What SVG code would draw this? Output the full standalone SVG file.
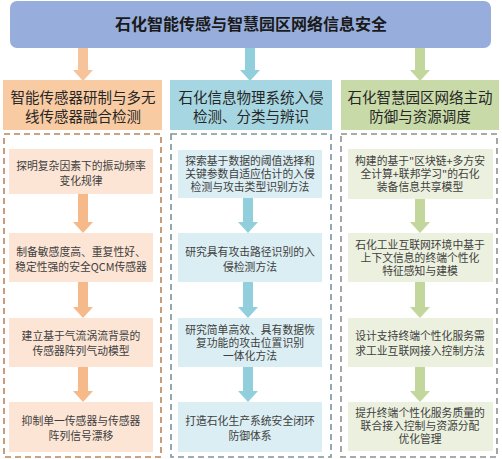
<svg xmlns="http://www.w3.org/2000/svg" width="502" height="459" viewBox="0 0 502 459">
<style>
text{font-family:"Noto Sans CJK SC","Noto Sans",sans-serif;text-anchor:middle}
.title{font-size:16px;font-weight:bold;fill:#1a1a1a}
.hd{font-size:14.5px;fill:#262626}
.tx{font-size:10.8px;fill:#404040}
.dash{fill:none;stroke-width:1.6;stroke-dasharray:6 4}
</style>
<rect width="502" height="459" fill="#ffffff"/>
<g id="title">
<rect x="10" y="1" width="481" height="47" rx="7" fill="#97aedc"/>
<text class="title" x="251" y="30">石化智能传感与智慧园区网络信息安全</text>
</g>
<g id="connectors">
<polygon points="78,48 88,48 88,70 93,70 83,81 73,70 78,70" fill="#f7c39b"/>
<polygon points="245,48 255,48 255,70 260,70 250,81 240,70 245,70" fill="#92cfdc"/>
<polygon points="415,48 425,48 425,70 430,70 420,81 410,70 415,70" fill="#c3d69b"/>
<g fill="#f5b98a">
<polygon points="78,194 88,194 88,222 93,222 83,233 73,222 78,222"/>
<polygon points="78,282 88,282 88,307 93,307 83,318 73,307 78,307"/>
<polygon points="78,367 88,367 88,391 93,391 83,402 73,391 78,391"/>
</g>
<g fill="#92cfdc">
<polygon points="243,198 253,198 253,222 258,222 248,233 238,222 243,222"/>
<polygon points="243,282 253,282 253,307 258,307 248,318 238,307 243,307"/>
<polygon points="243,367 253,367 253,391 258,391 248,402 238,391 243,391"/>
</g>
<g fill="#c3d69b">
<polygon points="415,199 425,199 425,222 430,222 420,233 410,222 415,222"/>
<polygon points="415,282 425,282 425,307 430,307 420,318 410,307 415,307"/>
<polygon points="415,367 425,367 425,391 430,391 420,402 410,391 415,391"/>
</g>
</g>
<g id="col1">
<rect x="3" y="80" width="159" height="50" fill="#f9cba3"/>
<text class="hd" x="83" y="103">智能传感器研制与多无</text>
<text class="hd" x="83" y="122">线传感器融合检测</text>
<rect class="dash" x="4" y="134" width="157" height="323" stroke="#b9855e"/>
</g>
<g id="c1b1"><rect x="9" y="149" width="144" height="45" fill="#fce5d5"/>
<text class="tx" x="81" y="170">探明复杂因素下的振动频率</text><text class="tx" x="81" y="185">变化规律</text></g>
<g id="c1b2"><rect x="9" y="233" width="144" height="49" fill="#fce5d5"/>
<text class="tx" x="81" y="256">制备敏感度高、重复性好、</text><text class="tx" x="81" y="271">稳定性强的安全QCM传感器</text></g>
<g id="c1b3"><rect x="9" y="318" width="144" height="49" fill="#fce5d5"/>
<text class="tx" x="81" y="340">建立基于气流涡流背景的</text><text class="tx" x="81" y="355">传感器阵列气动模型</text></g>
<g id="c1b4"><rect x="9" y="402" width="144" height="50" fill="#fce5d5"/>
<text class="tx" x="81" y="425">抑制单一传感器与传感器</text><text class="tx" x="81" y="440">阵列信号漂移</text></g>
<g id="col2">
<rect x="170" y="80" width="162" height="50" fill="#a6d6e1"/>
<text class="hd" x="251" y="103">石化信息物理系统入侵</text>
<text class="hd" x="251" y="122">检测、分类与辨识</text>
<rect class="dash" x="171" y="134" width="160" height="323" stroke="#7b959c"/>
</g>
<g id="c2b1"><rect x="178" y="150" width="144" height="48" fill="#dbeef3"/>
<text class="tx" x="250" y="165">探索基于数据的阈值选择和</text><text class="tx" x="250" y="178">关键参数自适应估计的入侵</text><text class="tx" x="250" y="191">检测与攻击类型识别方法</text></g>
<g id="c2b2"><rect x="178" y="233" width="144" height="49" fill="#dbeef3"/>
<text class="tx" x="250" y="256">研究具有攻击路径识别的入</text><text class="tx" x="250" y="271">侵检测方法</text></g>
<g id="c2b3"><rect x="178" y="318" width="144" height="49" fill="#dbeef3"/>
<text class="tx" x="250" y="334">研究简单高效、具有数据恢</text><text class="tx" x="250" y="347">复功能的攻击位置识别</text><text class="tx" x="250" y="360">一体化方法</text></g>
<g id="c2b4"><rect x="178" y="402" width="144" height="50" fill="#dbeef3"/>
<text class="tx" x="250" y="425">打造石化生产系统安全闭环</text><text class="tx" x="250" y="440">防御体系</text></g>
<g id="col3">
<rect x="341" y="80" width="158" height="50" fill="#c7daa8"/>
<text class="hd" x="420" y="103">石化智慧园区网络主动</text>
<text class="hd" x="420" y="122">防御与资源调度</text>
<rect class="dash" x="341" y="134" width="156" height="323" stroke="#8f8f8f"/>
</g>
<g id="c3b1"><rect x="348" y="149" width="145" height="50" fill="#ebf1de"/>
<text class="tx" x="420" y="165">构建的基于"区块链+多方安</text><text class="tx" x="420" y="178">全计算+联邦学习"的石化</text><text class="tx" x="420" y="191">装备信息共享模型</text></g>
<g id="c3b2"><rect x="348" y="233" width="145" height="49" fill="#ebf1de"/>
<text class="tx" x="420" y="249">石化工业互联网环境中基于</text><text class="tx" x="420" y="262">上下文信息的终端个性化</text><text class="tx" x="420" y="275">特征感知与建模</text></g>
<g id="c3b3"><rect x="348" y="318" width="145" height="49" fill="#ebf1de"/>
<text class="tx" x="420" y="340">设计支持终端个性化服务需</text><text class="tx" x="420" y="355">求工业互联网接入控制方法</text></g>
<g id="c3b4"><rect x="348" y="402" width="145" height="49" fill="#ebf1de"/>
<text class="tx" x="420" y="417">提升终端个性化服务质量的</text><text class="tx" x="420" y="430">联合接入控制与资源分配</text><text class="tx" x="420" y="443">优化管理</text></g>
</svg>
